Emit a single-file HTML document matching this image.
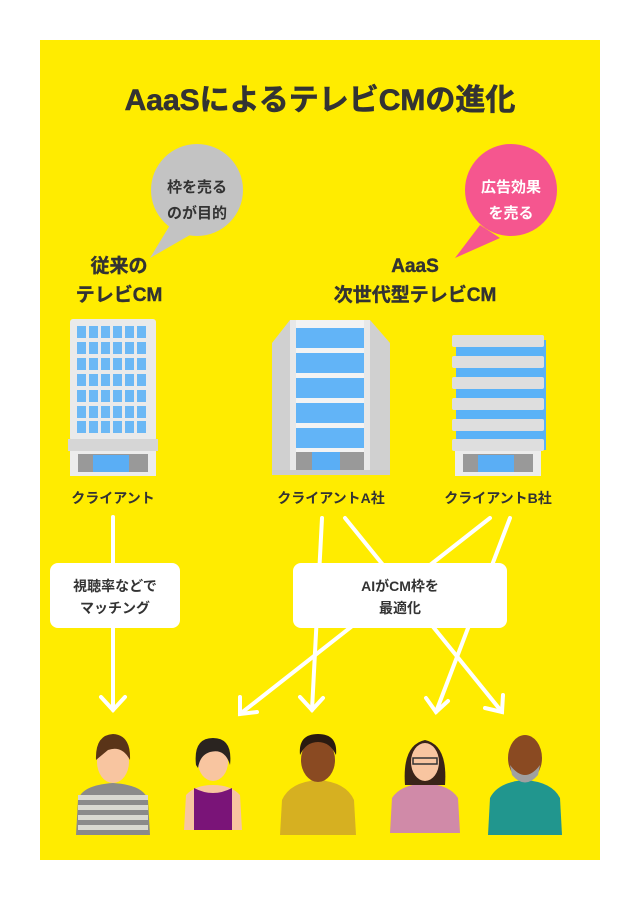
<!DOCTYPE html>
<html><head><meta charset="utf-8"><style>
body{margin:0;background:#fff;width:640px;height:900px;overflow:hidden}
svg text{font-family:"Liberation Sans","Noto Sans CJK JP",sans-serif;font-weight:bold;fill:#333}
</style></head><body>
<svg width="640" height="900" viewBox="0 0 640 900">
<rect x="40" y="40" width="560" height="820" fill="#FFEC00"/>
<text x="320" y="110" font-size="30" text-anchor="middle" stroke="#333" stroke-width="0.6">AaaSによるテレビCMの進化</text>
<!-- bubbles -->
<path d="M170 225 L150 258 L190 235 Z" fill="#c3c3c3"/>
<circle cx="197" cy="190" r="46" fill="#c3c3c3"/>
<text x="197" y="192" font-size="15" text-anchor="middle">枠を売る</text>
<text x="197" y="218" font-size="15" text-anchor="middle">のが目的</text>
<path d="M480 225 L455 258 L500 238 Z" fill="#F5568F"/>
<circle cx="511" cy="190" r="46" fill="#F5568F"/>
<text x="511" y="192" font-size="15" text-anchor="middle" style="fill:#fff">広告効果</text>
<text x="511" y="218" font-size="15" text-anchor="middle" style="fill:#fff">を売る</text>
<text x="119" y="272" font-size="19" text-anchor="middle" stroke="#333" stroke-width="0.4">従来の</text>
<text x="119" y="301" font-size="19" text-anchor="middle" stroke="#333" stroke-width="0.4">テレビCM</text>
<text x="415" y="272" font-size="19" text-anchor="middle" stroke="#333" stroke-width="0.4">AaaS</text>
<text x="415" y="301" font-size="19" text-anchor="middle" stroke="#333" stroke-width="0.4">次世代型テレビCM</text>
<!-- building 1 -->
<rect x="70" y="319" width="86" height="122" rx="3" fill="#eaeaea"/>
<g fill="#6bb8f5">
<rect x="77" y="326" width="9" height="12"/><rect x="89" y="326" width="9" height="12"/><rect x="101" y="326" width="9" height="12"/><rect x="113" y="326" width="9" height="12"/><rect x="125" y="326" width="9" height="12"/><rect x="137" y="326" width="9" height="12"/>
<rect x="77" y="342" width="9" height="12"/><rect x="89" y="342" width="9" height="12"/><rect x="101" y="342" width="9" height="12"/><rect x="113" y="342" width="9" height="12"/><rect x="125" y="342" width="9" height="12"/><rect x="137" y="342" width="9" height="12"/>
<rect x="77" y="358" width="9" height="12"/><rect x="89" y="358" width="9" height="12"/><rect x="101" y="358" width="9" height="12"/><rect x="113" y="358" width="9" height="12"/><rect x="125" y="358" width="9" height="12"/><rect x="137" y="358" width="9" height="12"/>
<rect x="77" y="374" width="9" height="12"/><rect x="89" y="374" width="9" height="12"/><rect x="101" y="374" width="9" height="12"/><rect x="113" y="374" width="9" height="12"/><rect x="125" y="374" width="9" height="12"/><rect x="137" y="374" width="9" height="12"/>
<rect x="77" y="390" width="9" height="12"/><rect x="89" y="390" width="9" height="12"/><rect x="101" y="390" width="9" height="12"/><rect x="113" y="390" width="9" height="12"/><rect x="125" y="390" width="9" height="12"/><rect x="137" y="390" width="9" height="12"/>
<rect x="77" y="406" width="9" height="12"/><rect x="89" y="406" width="9" height="12"/><rect x="101" y="406" width="9" height="12"/><rect x="113" y="406" width="9" height="12"/><rect x="125" y="406" width="9" height="12"/><rect x="137" y="406" width="9" height="12"/>
<rect x="77" y="421" width="9" height="12"/><rect x="89" y="421" width="9" height="12"/><rect x="101" y="421" width="9" height="12"/><rect x="113" y="421" width="9" height="12"/><rect x="125" y="421" width="9" height="12"/><rect x="137" y="421" width="9" height="12"/>
</g>
<rect x="68" y="439" width="90" height="12" fill="#d6d6d6"/>
<rect x="70" y="451" width="86" height="25" fill="#ececec"/>
<rect x="78" y="454" width="70" height="18" fill="#999"/>
<rect x="93" y="455" width="36" height="17" fill="#5aaef5"/>
<!-- building A -->
<path d="M272 343 L290 320 L370 320 L390 343 L390 475 L272 475 Z" fill="#d0d0d0"/>
<rect x="290" y="320" width="80" height="155" fill="#e8e8e8"/>
<rect x="296" y="320" width="68" height="155" fill="#f3f3f3"/>
<g fill="#62b4f7">
<rect x="296" y="328" width="68" height="20"/><rect x="296" y="353" width="68" height="20"/><rect x="296" y="378" width="68" height="20"/><rect x="296" y="403" width="68" height="20"/><rect x="296" y="428" width="68" height="20"/>
</g>
<rect x="296" y="452" width="68" height="18" fill="#999"/>
<rect x="312" y="452" width="28" height="18" fill="#5aaef5"/>
<rect x="272" y="470" width="118" height="5" fill="#ccc"/>
<!-- building B -->
<rect x="456" y="340" width="90" height="110" fill="#5ab2f7"/>
<g fill="#dedede">
<rect x="452" y="335" width="92" height="12" rx="2"/><rect x="452" y="356" width="92" height="12" rx="2"/><rect x="452" y="377" width="92" height="12" rx="2"/><rect x="452" y="398" width="92" height="12" rx="2"/><rect x="452" y="419" width="92" height="12" rx="2"/><rect x="452" y="439" width="92" height="12" rx="2"/>
</g>
<rect x="455" y="451" width="86" height="25" fill="#ececec"/>
<rect x="463" y="454" width="70" height="18" fill="#999"/>
<rect x="478" y="455" width="36" height="17" fill="#5aaef5"/>
<text x="113" y="503" font-size="14" text-anchor="middle">クライアント</text>
<text x="331" y="503" font-size="14" text-anchor="middle">クライアントA社</text>
<text x="498" y="503" font-size="14" text-anchor="middle">クライアントB社</text>
<!-- lines -->
<g stroke="#fff" stroke-width="4" fill="none" stroke-linecap="round">
<line x1="113" y1="517" x2="113" y2="710"/>
<polyline points="101,697 113,710 125,697"/>
<line x1="322" y1="518" x2="312" y2="710"/>
<polyline points="300,697 312,710 323,698"/>
<line x1="345" y1="518" x2="502" y2="712"/>
<polyline points="485,708 502,712 503,695"/>
<line x1="490" y1="518" x2="240" y2="714"/>
<polyline points="240,697 240,714 257,712"/>
<line x1="510" y1="518" x2="436" y2="712"/>
<polyline points="426,698 436,712 448,701"/>
</g>
<rect x="50" y="563" width="130" height="65" rx="8" fill="#fff"/>
<text x="115" y="591" font-size="14" text-anchor="middle">視聴率などで</text>
<text x="115" y="613" font-size="14" text-anchor="middle">マッチング</text>
<rect x="293" y="563" width="214" height="65" rx="8" fill="#fff"/>
<text x="400" y="591" font-size="14" text-anchor="middle">AIがCM枠を</text>
<text x="400" y="613" font-size="14" text-anchor="middle">最適化</text>
<!-- people -->
<g>
<path d="M76 835 L78 800 Q82 785 113 783 Q144 785 148 800 L150 835 Z" fill="#8a8a8a"/>
<g fill="#d8d8d0"><rect x="78" y="795" width="70" height="5"/><rect x="78" y="805" width="70" height="5"/><rect x="78" y="815" width="70" height="5"/><rect x="78" y="825" width="70" height="5"/></g>
<ellipse cx="113" cy="762" rx="16" ry="21" fill="#f8c5a0"/>
<path d="M96 760 Q95 735 113 734 Q131 735 130 760 Q122 745 108 750 Z" fill="#5a3418"/>
</g>
<g>
<path d="M184 830 L186 795 Q195 785 213 785 Q231 785 240 795 L242 830 Z" fill="#f8c5a0"/>
<path d="M194 830 L194 788 Q213 798 232 788 L232 830 Z" fill="#7a1478"/>
<ellipse cx="213" cy="762" rx="15" ry="19" fill="#f8c5a0"/>
<path d="M196 765 Q193 738 213 738 Q233 738 230 765 Q225 748 210 752 Q200 755 198 768 Z" fill="#2a2420"/>
</g>
<g>
<path d="M280 835 L282 800 Q290 782 318 780 Q346 782 354 800 L356 835 Z" fill="#d6b021"/>
<ellipse cx="318" cy="760" rx="17" ry="22" fill="#8a4a22"/>
<path d="M300 755 Q298 734 318 734 Q338 734 336 755 Q330 742 318 742 Q306 742 300 755 Z" fill="#2a1a10"/>
</g>
<g>
<path d="M390 833 L392 798 Q400 785 425 783 Q450 785 458 798 L460 833 Z" fill="#d08aa8"/>
<path d="M405 785 Q402 745 425 740 Q448 745 445 785 Z" fill="#3a2418"/>
<ellipse cx="425" cy="762" rx="14" ry="19" fill="#f8c5a0"/>
<rect x="413" y="758" width="24" height="6" fill="none" stroke="#333" stroke-width="1.5"/>
</g>
<g>
<path d="M488 835 L490 798 Q498 782 525 780 Q552 782 560 798 L562 835 Z" fill="#21968e"/>
<ellipse cx="525" cy="758" rx="17" ry="23" fill="#8a4a22"/>
<path d="M510 765 Q525 785 540 765 L538 775 Q525 790 512 775 Z" fill="#a0a0a0"/>
</g>
</svg>
</body></html>
